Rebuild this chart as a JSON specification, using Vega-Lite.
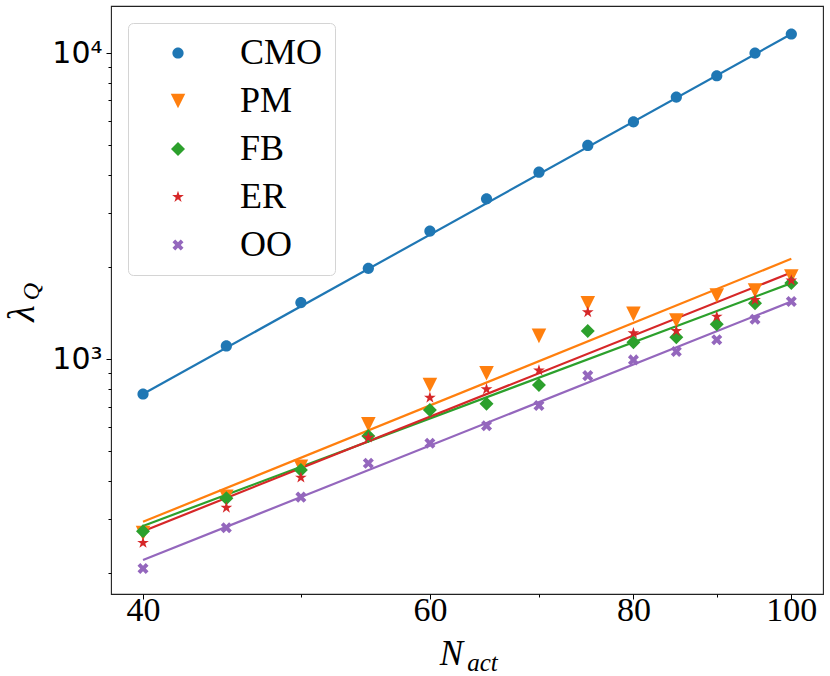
{
  "$schema": "https://vega.github.io/schema/vega-lite/v6.json",
  "width": 712,
  "height": 588,
  "autosize": {"type": "none"},
  "padding": {"left": 111, "top": 6, "right": 7, "bottom": 82},
  "background": "white",
  "config": {
    "view": {"stroke": "#222", "strokeWidth": 1.1}
  },
  "datasets": {
    "pts": [
      {"m": "CMO", "n": 40, "v": 769}, {"m": "CMO", "n": 45, "v": 1104}, {"m": "CMO", "n": 50, "v": 1530},
      {"m": "CMO", "n": 55, "v": 1980}, {"m": "CMO", "n": 60, "v": 2620}, {"m": "CMO", "n": 65, "v": 3340},
      {"m": "CMO", "n": 70, "v": 4080}, {"m": "CMO", "n": 75, "v": 4990}, {"m": "CMO", "n": 80, "v": 5960},
      {"m": "CMO", "n": 85, "v": 7180}, {"m": "CMO", "n": 90, "v": 8430}, {"m": "CMO", "n": 95, "v": 10000},
      {"m": "CMO", "n": 100, "v": 11540},
      {"m": "PM", "n": 40, "v": 270}, {"m": "PM", "n": 45, "v": 355}, {"m": "PM", "n": 50, "v": 445},
      {"m": "PM", "n": 55, "v": 612}, {"m": "PM", "n": 60, "v": 823}, {"m": "PM", "n": 65, "v": 899},
      {"m": "PM", "n": 70, "v": 1191}, {"m": "PM", "n": 75, "v": 1523}, {"m": "PM", "n": 80, "v": 1405},
      {"m": "PM", "n": 85, "v": 1336}, {"m": "PM", "n": 90, "v": 1613}, {"m": "PM", "n": 95, "v": 1675},
      {"m": "PM", "n": 100, "v": 1861},
      {"m": "FB", "n": 40, "v": 274}, {"m": "FB", "n": 45, "v": 351}, {"m": "FB", "n": 50, "v": 434},
      {"m": "FB", "n": 55, "v": 561}, {"m": "FB", "n": 60, "v": 682}, {"m": "FB", "n": 65, "v": 714},
      {"m": "FB", "n": 70, "v": 823}, {"m": "FB", "n": 75, "v": 1236}, {"m": "FB", "n": 80, "v": 1136},
      {"m": "FB", "n": 85, "v": 1179}, {"m": "FB", "n": 90, "v": 1300}, {"m": "FB", "n": 95, "v": 1523},
      {"m": "FB", "n": 100, "v": 1771},
      {"m": "ER", "n": 40, "v": 251}, {"m": "ER", "n": 45, "v": 327}, {"m": "ER", "n": 50, "v": 410},
      {"m": "ER", "n": 55, "v": 554}, {"m": "ER", "n": 60, "v": 748}, {"m": "ER", "n": 65, "v": 797},
      {"m": "ER", "n": 70, "v": 918}, {"m": "ER", "n": 75, "v": 1423}, {"m": "ER", "n": 80, "v": 1215},
      {"m": "ER", "n": 85, "v": 1236}, {"m": "ER", "n": 90, "v": 1377}, {"m": "ER", "n": 95, "v": 1561},
      {"m": "ER", "n": 100, "v": 1806},
      {"m": "OO", "n": 40, "v": 207}, {"m": "OO", "n": 45, "v": 281}, {"m": "OO", "n": 50, "v": 354},
      {"m": "OO", "n": 55, "v": 457}, {"m": "OO", "n": 60, "v": 531}, {"m": "OO", "n": 65, "v": 606},
      {"m": "OO", "n": 70, "v": 705}, {"m": "OO", "n": 75, "v": 883}, {"m": "OO", "n": 80, "v": 994},
      {"m": "OO", "n": 85, "v": 1058}, {"m": "OO", "n": 90, "v": 1156}, {"m": "OO", "n": 95, "v": 1350},
      {"m": "OO", "n": 100, "v": 1542}
    ],
    "fits": [
      {"m": "CMO", "n": 40, "v": 769}, {"m": "CMO", "n": 100, "v": 11540},
      {"m": "PM", "n": 40, "v": 294}, {"m": "PM", "n": 100, "v": 2126},
      {"m": "FB", "n": 40, "v": 285}, {"m": "FB", "n": 100, "v": 1771},
      {"m": "ER", "n": 40, "v": 274}, {"m": "ER", "n": 100, "v": 1918},
      {"m": "OO", "n": 40, "v": 220.6}, {"m": "OO", "n": 100, "v": 1542}
    ]
  },
  "layer": [
    {
      "data": {"name": "fits"},
      "mark": {"type": "line", "strokeWidth": 2.2},
      "encoding": {
        "x": {
          "field": "n", "type": "quantitative",
          "scale": {"type": "log", "domain": [38.23, 104.58], "nice": false, "zero": false},
          "axis": {
            "orient": "bottom",
            "values": [40, 50, 60, 70, 80, 90, 100],
            "format": "d",
            "labelExpr": "datum.value == 50 || datum.value == 70 || datum.value == 90 ? '' : datum.label",
            "labelFont": "Liberation Serif", "labelFontSize": 34, "labelColor": "black", "labelPadding": -6,
            "labelFlush": false, "labelOverlap": false,
            "tickColor": "black", "tickWidth": 1,
            "tickSize": {"condition": {"test": "datum.value == 50 || datum.value == 70 || datum.value == 90", "value": 3}, "value": 5},
            "domain": false, "grid": false,
            "title": "N",
            "titleFont": "Liberation Serif", "titleFontStyle": "italic", "titleFontWeight": "normal",
            "titleFontSize": 35, "titleColor": "black",
            "titleX": 340, "titleY": 70, "titleAlign": "center", "titleBaseline": "alphabetic"
          }
        },
        "y": {
          "field": "v", "type": "quantitative",
          "scale": {"type": "log", "domain": [170.8, 14245], "nice": false, "zero": false},
          "axis": {
            "orient": "left",
            "values": [200, 300, 400, 500, 600, 700, 800, 900, 1000, 2000, 3000, 4000, 5000, 6000, 7000, 8000, 9000, 10000],
            "labelExpr": "datum.value == 1000 ? '10³' : datum.value == 10000 ? '10⁴' : ''",
            "labelFont": "DejaVu Sans", "labelFontSize": 30, "labelColor": "black", "labelPadding": 4,
            "labelFlush": false, "labelOverlap": false,
            "tickColor": "black", "tickWidth": 1,
            "tickSize": {"condition": {"test": "datum.value == 1000 || datum.value == 10000", "value": 5}, "value": 3},
            "domain": false, "grid": false,
            "title": "λ",
            "titleFont": "Liberation Serif", "titleFontStyle": "italic", "titleFontWeight": "normal",
            "titleFontSize": 38, "titleColor": "black", "titleAngle": -90,
            "titleX": -78, "titleY": 307, "titleAlign": "center", "titleBaseline": "alphabetic"
          }
        },
        "stroke": {
          "field": "m", "type": "nominal",
          "scale": {"domain": ["CMO", "ER", "FB", "OO", "PM"], "range": ["#1f77b4", "#d62728", "#2ca02c", "#9467bd", "#ff7f0e"]},
          "legend": null
        }
      }
    },
    {
      "data": {"name": "pts"},
      "mark": {"type": "point", "filled": true, "opacity": 1, "size": 256},
      "encoding": {
        "x": {
          "field": "n", "type": "quantitative",
          "scale": {"type": "log", "domain": [38.23, 104.58], "nice": false, "zero": false},
          "axis": {
            "orient": "bottom", "domain": false, "ticks": false, "labels": false, "grid": false,
            "title": "act",
            "titleFont": "Liberation Serif", "titleFontStyle": "italic", "titleFontWeight": "normal",
            "titleFontSize": 25, "titleColor": "black",
            "titleX": 371, "titleY": 76, "titleAlign": "center", "titleBaseline": "alphabetic"
          }
        },
        "y": {
          "field": "v", "type": "quantitative",
          "scale": {"type": "log", "domain": [170.8, 14245], "nice": false, "zero": false},
          "axis": {
            "orient": "left", "domain": false, "ticks": false, "labels": false, "grid": false,
            "title": "Q",
            "titleFont": "Liberation Serif", "titleFontStyle": "italic", "titleFontWeight": "normal",
            "titleFontSize": 24, "titleColor": "black", "titleAngle": -90,
            "titleX": -73, "titleY": 285, "titleAlign": "center", "titleBaseline": "alphabetic"
          }
        },
        "color": {
          "field": "m", "type": "nominal",
          "scale": {"domain": ["CMO", "PM", "FB", "ER", "OO"], "range": ["#1f77b4", "#ff7f0e", "#2ca02c", "#d62728", "#9467bd"]},
          "legend": {
            "title": null,
            "orient": "top-left",
            "offset": 17,
            "padding": 12,
            "strokeColor": "#d4d4d4",
            "fillColor": "white",
            "cornerRadius": 5,
            "labelFont": "Liberation Serif",
            "labelFontSize": 36,
            "labelColor": "black",
            "symbolSize": 256,
            "symbolOffset": 20,
            "labelOffset": 44,
            "rowPadding": 12,
            "symbolOpacity": 1
          }
        },
        "shape": {
          "field": "m", "type": "nominal",
          "scale": {
            "domain": ["CMO", "PM", "FB", "ER", "OO"],
            "range": [
              "M0.7,0A0.7,0.7,0,1,1,-0.7,0A0.7,0.7,0,1,1,0.7,0Z",
              "M-0.91,-0.91L0.91,-0.91L0,0.91Z",
              "M-0.875,0L0,-0.875L0.875,0L0,0.875Z",
              "M0,-0.77L0.1729,-0.2379L0.7323,-0.2379L0.2795,0.0909L0.4528,0.6229L0,0.2941L-0.4528,0.6229L-0.2795,0.0909L-0.7323,-0.2379L-0.1729,-0.2379Z",
              "M-0.69,-0.345L-0.345,-0.69L0,-0.345L0.345,-0.69L0.69,-0.345L0.345,0L0.69,0.345L0.345,0.69L0,0.345L-0.345,0.69L-0.69,0.345L-0.345,0Z"
            ]
          },
          "legend": {"title": null}
        }
      }
    }
  ],
  "resolve": {"axis": {"x": "independent", "y": "independent"}}
}
